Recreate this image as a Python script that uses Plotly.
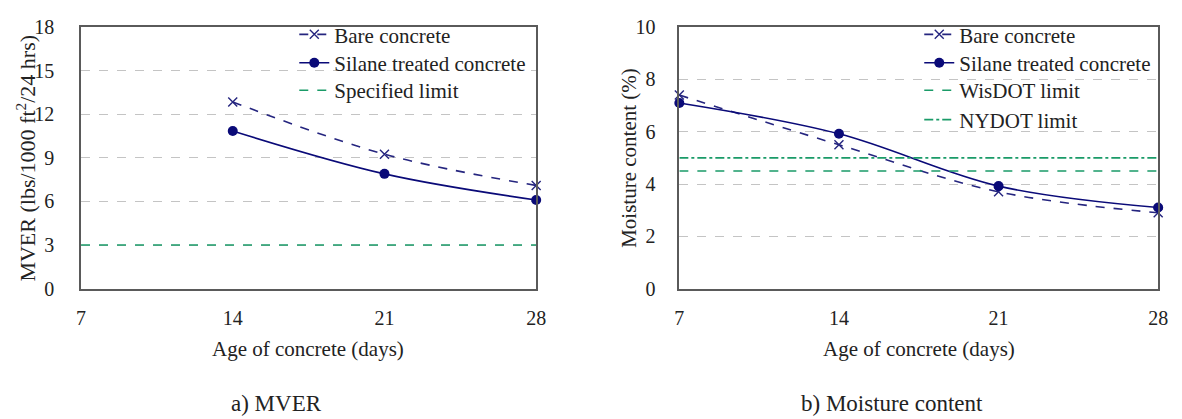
import plotly.graph_objects as go

# ---- data ----
ages = [7, 14, 21, 28]
mver_ages = [14, 21, 28]
mver_bare = [12.85, 9.25, 7.1]
mver_silane = [10.85, 7.9, 6.1]
mver_limit = 3.0

mc_ages = [7, 14, 21, 28]
mc_bare = [7.4, 5.5, 3.7, 2.9]
mc_silane = [7.1, 5.92, 3.92, 3.1]
wisdot_limit = 4.5
nydot_limit = 5.0

x_range = [7, 28]
mver_ticks = [0, 3, 6, 9, 12, 15, 18]
mc_ticks = [0, 2, 4, 6, 8, 10]

# ---- styling ----
W, H = 1182, 419
FONT = "Liberation Serif, Times New Roman, serif"
BARE_C = "#25257f"
SIL_C = "#0a0a78"
GREEN = "#1a9b68"
GRID_C = "#c4c4c4"
AXIS_C = "#5a5a5a"
TXT = "#222"

def px_x(p):
    return p / W

def px_y(p):
    return 1 - p / H

fig = go.Figure()

# left panel
fig.add_trace(go.Scatter(x=mver_ages, y=mver_bare, name="Bare concrete", mode="lines+markers",
                         line=dict(color=BARE_C, width=1.6, dash="dash", shape="spline"),
                         marker=dict(symbol="x-thin", size=9, line=dict(color=BARE_C, width=1.4)),
                         cliponaxis=False, xaxis="x", yaxis="y", legend="legend"))
fig.add_trace(go.Scatter(x=mver_ages, y=mver_silane, name="Silane treated concrete", mode="lines+markers",
                         line=dict(color=SIL_C, width=1.6, shape="spline"),
                         marker=dict(symbol="circle", size=10, color=SIL_C),
                         cliponaxis=False, xaxis="x", yaxis="y", legend="legend2"))
fig.add_trace(go.Scatter(x=x_range, y=[mver_limit, mver_limit], name="Specified limit", mode="lines",
                         line=dict(color=GREEN, width=1.6, dash="dash"),
                         xaxis="x", yaxis="y", legend="legend3"))

# right panel
fig.add_trace(go.Scatter(x=mc_ages, y=mc_bare, name="Bare concrete", mode="lines+markers",
                         line=dict(color=BARE_C, width=1.6, dash="dash", shape="spline"),
                         marker=dict(symbol="x-thin", size=9, line=dict(color=BARE_C, width=1.4)),
                         cliponaxis=False, xaxis="x2", yaxis="y2", legend="legend4"))
fig.add_trace(go.Scatter(x=mc_ages, y=mc_silane, name="Silane treated concrete", mode="lines+markers",
                         line=dict(color=SIL_C, width=1.6, shape="spline"),
                         marker=dict(symbol="circle", size=10, color=SIL_C),
                         cliponaxis=False, xaxis="x2", yaxis="y2", legend="legend5"))
fig.add_trace(go.Scatter(x=x_range, y=[wisdot_limit, wisdot_limit], name="WisDOT limit", mode="lines",
                         line=dict(color=GREEN, width=1.6, dash="dash"),
                         xaxis="x2", yaxis="y2", legend="legend6"))
fig.add_trace(go.Scatter(x=x_range, y=[nydot_limit, nydot_limit], name="NYDOT limit", mode="lines",
                         line=dict(color=GREEN, width=1.6, dash="dashdot"),
                         xaxis="x2", yaxis="y2", legend="legend7"))

ydom = [px_y(293), px_y(17)]
common_x = dict(range=x_range, tickvals=ages, showgrid=False, zeroline=False, showline=True,
                mirror=True, linecolor=AXIS_C, linewidth=1.5, ticks="",
                tickfont=dict(family=FONT, size=20, color=TXT), ticklabelstandoff=11)
common_y = dict(showgrid=True, gridcolor=GRID_C, griddash="dash", gridwidth=1, zeroline=False,
                showline=True, mirror=True, linecolor=AXIS_C, linewidth=1.5, ticks="",
                tickfont=dict(family=FONT, size=20, color=TXT), domain=ydom)

def leg(xpx, ypx):
    return dict(x=px_x(xpx), y=px_y(ypx), xanchor="left", yanchor="middle",
                bgcolor="rgba(0,0,0,0)", borderwidth=0,
                font=dict(family=FONT, size=21, color=TXT))

rows = [25, 55, 84, 115]
fig.update_layout(
    width=W, height=H, margin=dict(l=0, r=0, t=0, b=0),
    paper_bgcolor="white", plot_bgcolor="white",
    font=dict(family=FONT, color=TXT),
    xaxis=dict(domain=[px_x(77), px_x(538)], anchor="y", **common_x),
    yaxis=dict(range=[0, 18], tickvals=mver_ticks, anchor="x", ticklabelstandoff=21, **common_y),
    xaxis2=dict(domain=[px_x(683), px_x(1168)], anchor="y2", **common_x),
    yaxis2=dict(range=[0, 10], tickvals=mc_ticks, anchor="x2", ticklabelstandoff=18, **common_y),
    legend=leg(293, rows[0]),
    legend2=leg(293, rows[1]),
    legend3=leg(293, rows[2]),
    legend4=leg(926, rows[0]),
    legend5=leg(926, rows[1]),
    legend6=leg(926, rows[2]),
    legend7=leg(926, rows[3]),
    showlegend=True,
)

ann_font = dict(family=FONT, size=21, color=TXT)
annotations = [
    dict(text="Age of concrete (days)", x=px_x(307), y=px_y(357), xref="paper", yref="paper",
         showarrow=False, font=ann_font, xanchor="center", yanchor="middle"),
    dict(text="Age of concrete (days)", x=px_x(926), y=px_y(357), xref="paper", yref="paper",
         showarrow=False, font=ann_font, xanchor="center", yanchor="middle"),
    dict(text="MVER (lbs/1000 ft<sup>2</sup>/24 hrs)", x=px_x(21), y=px_y(155), xref="paper", yref="paper",
         showarrow=False, font=dict(family=FONT, size=22, color=TXT), textangle=-90,
         xanchor="center", yanchor="middle"),
    dict(text="Moisture content (%)", x=px_x(632), y=px_y(155), xref="paper", yref="paper",
         showarrow=False, font=ann_font, textangle=-90, xanchor="center", yanchor="middle"),
    dict(text="a) MVER", x=px_x(275), y=px_y(414), xref="paper", yref="paper",
         showarrow=False, font=dict(family=FONT, size=23, color=TXT), xanchor="center", yanchor="middle"),
    dict(text="b) Moisture content", x=px_x(898), y=px_y(414), xref="paper", yref="paper",
         showarrow=False, font=dict(family=FONT, size=23, color=TXT), xanchor="center", yanchor="middle"),
]
fig.update_layout(annotations=annotations)

fig.write_html("out.html")
